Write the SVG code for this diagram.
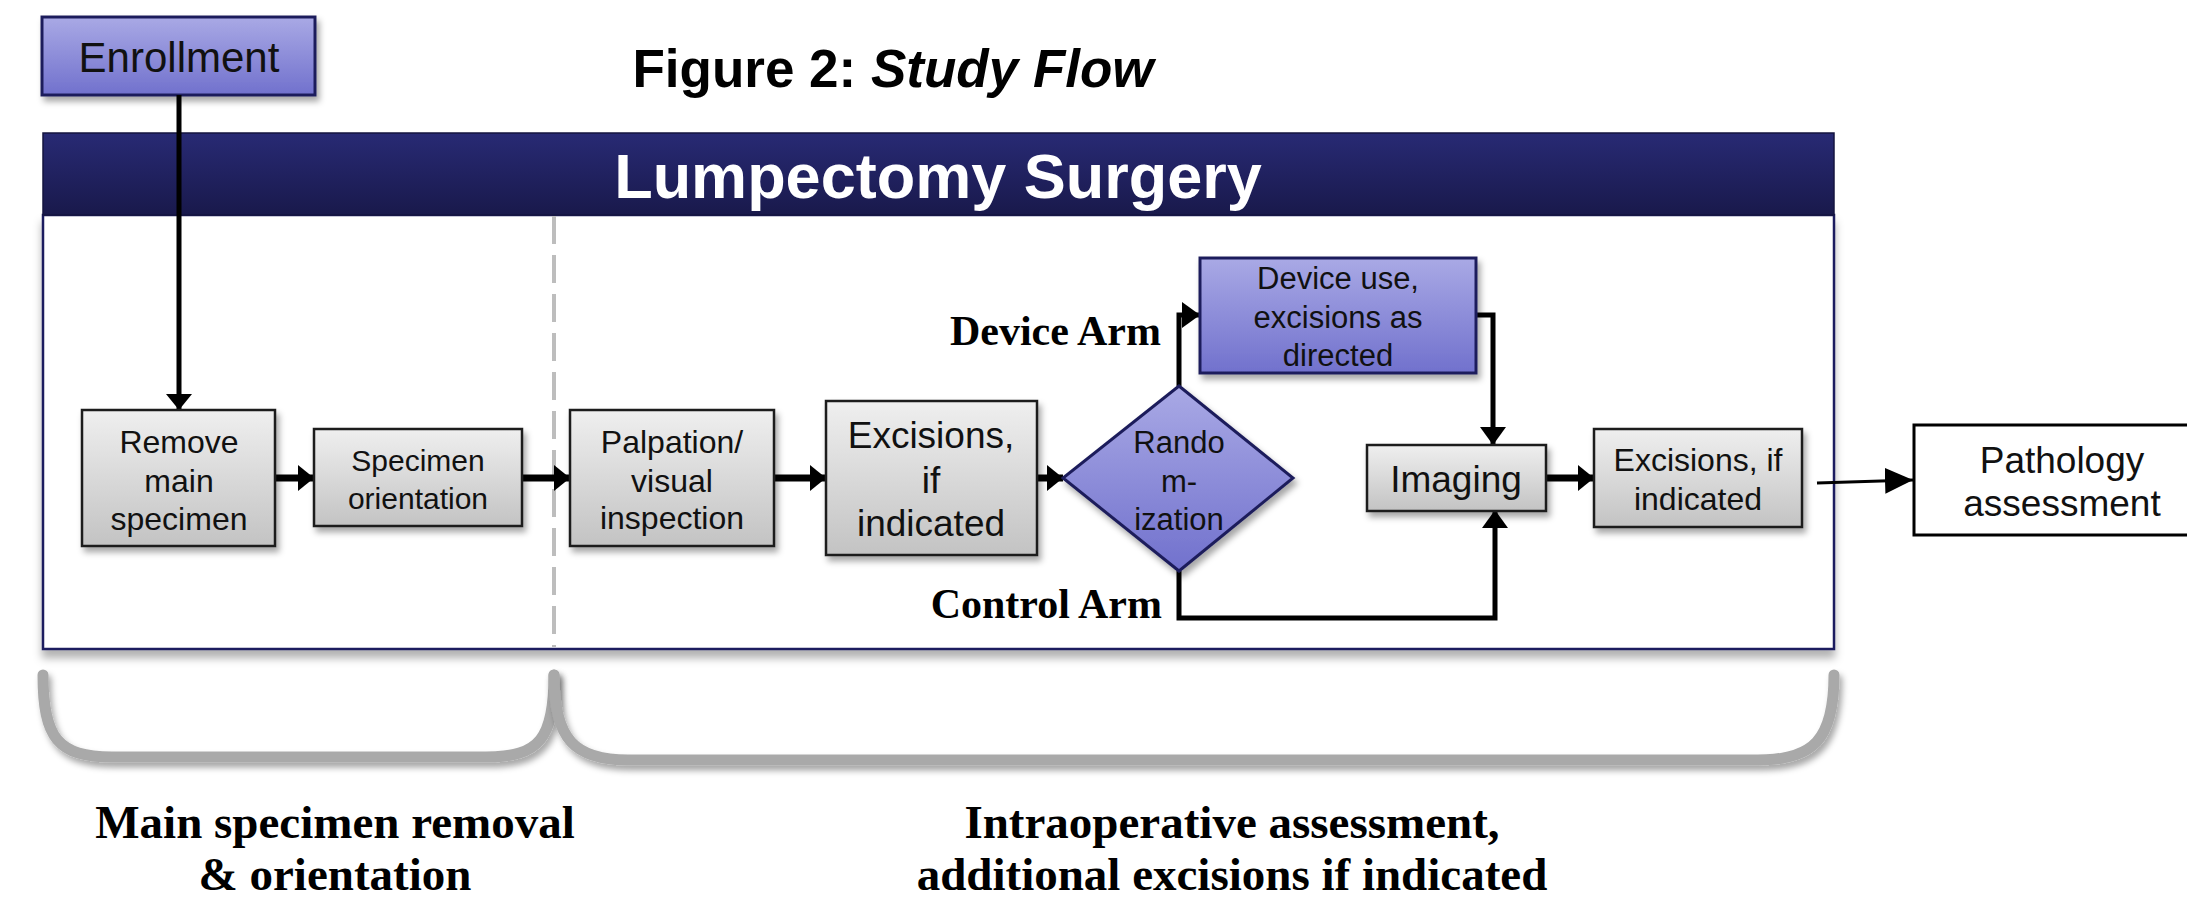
<svg xmlns="http://www.w3.org/2000/svg" width="2187" height="901" viewBox="0 0 2187 901">
<defs>
<linearGradient id="gGray" x1="0" y1="0" x2="0" y2="1"><stop offset="0" stop-color="#efefef"/><stop offset="1" stop-color="#c3c3c3"/></linearGradient>
<linearGradient id="gPurple" x1="0" y1="0" x2="0" y2="1"><stop offset="0" stop-color="#a9a9e5"/><stop offset="1" stop-color="#7171cd"/></linearGradient>
<linearGradient id="gHead" x1="0" y1="0" x2="0" y2="1"><stop offset="0" stop-color="#282a74"/><stop offset="1" stop-color="#19194b"/></linearGradient>
<filter id="sh" x="-10%" y="-10%" width="130%" height="140%"><feDropShadow dx="3" dy="5" stdDeviation="3" flood-color="#000" flood-opacity="0.35"/></filter>
<filter id="shb" x="-5%" y="-10%" width="110%" height="130%"><feDropShadow dx="0" dy="8" stdDeviation="4" flood-color="#000" flood-opacity="0.3"/></filter>
<marker id="ah" markerUnits="userSpaceOnUse" markerWidth="17" markerHeight="26" refX="16" refY="13" orient="auto"><path d="M0,0 L16,13 L0,26 z" fill="#000"/></marker>
<marker id="ahm" markerUnits="userSpaceOnUse" markerWidth="19" markerHeight="28" refX="18" refY="14" orient="auto"><path d="M0,1 L18,14 L0,27 z" fill="#000"/></marker>
<marker id="aht" markerUnits="userSpaceOnUse" markerWidth="29" markerHeight="26" refX="28" refY="13" orient="auto"><path d="M0,0 L28,13 L0,26 z" fill="#000"/></marker>
</defs>
<style>
.gbox{fill:url(#gGray);stroke:#1a1a1a;stroke-width:2.5;filter:url(#sh)}
.pbox{fill:url(#gPurple);stroke:#1f1f5c;stroke-width:3;filter:url(#sh)}
.t{font-family:"Liberation Sans",Arial,sans-serif;fill:#111;text-anchor:middle}
.s{font-family:"Liberation Serif","Times New Roman",serif;font-weight:bold;fill:#000}
.c{fill:none;stroke:#000;stroke-linejoin:miter}
.thick{stroke-width:7}
.med{stroke-width:5}
.brace{fill:none;stroke:#a9a9a9;stroke-width:11;stroke-linecap:round}
</style>
<rect width="2187" height="901" fill="#fff"/>

<g id="title"><text x="893" y="87" font-family="Liberation Sans,Arial,sans-serif" font-weight="bold" font-size="53" text-anchor="middle" fill="#000">Figure 2: <tspan font-style="italic">Study Flow</tspan></text></g>

<g id="surgery-panel">
<rect x="43" y="215" width="1791" height="434" fill="#fff" stroke="#1f1f5f" stroke-width="2.5" filter="url(#shb)"/>
<rect x="43" y="133" width="1791" height="82" fill="url(#gHead)" stroke="#15153f" stroke-width="1.5"/>
<text x="938" y="198" font-family="Liberation Sans,Arial,sans-serif" font-weight="bold" font-size="63" text-anchor="middle" fill="#fff">Lumpectomy Surgery</text>
<line x1="554" y1="216" x2="554" y2="647" stroke="#bdbdbd" stroke-width="4" stroke-dasharray="28,11"/>
</g>

<g id="enrollment"><rect class="pbox" x="42" y="17" width="273" height="78"/><text class="t" x="179" y="72" font-size="42">Enrollment</text></g>

<g id="connectors">
<path class="c med" d="M179,95 V410" marker-end="url(#ah)"/>
<path class="c thick" d="M275,478 H314" marker-end="url(#ah)"/>
<path class="c thick" d="M522,478 H570" marker-end="url(#ah)"/>
<path class="c thick" d="M774,478 H826" marker-end="url(#ah)"/>
<path class="c thick" d="M1037,478 H1063" marker-end="url(#ah)"/>
<path class="c med" d="M1179,386 V315 H1200" marker-end="url(#ahm)"/>
<path class="c med" d="M1476,315 H1493 V445" marker-end="url(#ahm)"/>
<path class="c med" d="M1179,571 V618 H1495 V510" marker-end="url(#ahm)"/>
<path class="c thick" d="M1546,478 H1594" marker-end="url(#ah)"/>
<path class="c" stroke-width="3" d="M1817,483 L1913,480" marker-end="url(#aht)"/>
</g>

<g id="remove"><rect class="gbox" x="82" y="410" width="193" height="136"/><text class="t" font-size="32"><tspan x="179" y="453">Remove</tspan><tspan x="179" y="492">main</tspan><tspan x="179" y="530">specimen</tspan></text></g>

<g id="orientation"><rect class="gbox" x="314" y="429" width="208" height="97"/><text class="t" font-size="30"><tspan x="418" y="471">Specimen</tspan><tspan x="418" y="509">orientation</tspan></text></g>

<g id="palpation"><rect class="gbox" x="570" y="410" width="204" height="136"/><text class="t" font-size="32"><tspan x="672" y="453">Palpation/</tspan><tspan x="672" y="492">visual</tspan><tspan x="672" y="529">inspection</tspan></text></g>

<g id="excisions1"><rect class="gbox" x="826" y="401" width="211" height="154"/><text class="t" font-size="37"><tspan x="931" y="448">Excisions,</tspan><tspan x="931" y="493">if</tspan><tspan x="931" y="536">indicated</tspan></text></g>

<g id="randomization"><path class="pbox" d="M1179,386 L1293,478 L1179,571 L1063,478 Z"/><text class="t" font-size="31"><tspan x="1179" y="453">Rando</tspan><tspan x="1179" y="492">m-</tspan><tspan x="1179" y="530">ization</tspan></text></g>

<g id="device"><rect class="pbox" x="1200" y="258" width="276" height="115"/><text class="t" font-size="31"><tspan x="1338" y="289">Device use,</tspan><tspan x="1338" y="328">excisions as</tspan><tspan x="1338" y="366">directed</tspan></text></g>

<g id="imaging"><rect class="gbox" x="1367" y="445" width="179" height="66"/><text class="t" x="1456" y="492" font-size="37">Imaging</text></g>

<g id="excisions2"><rect class="gbox" x="1594" y="429" width="208" height="98"/><text class="t" font-size="32"><tspan x="1698" y="471">Excisions, if</tspan><tspan x="1698" y="510">indicated</tspan></text></g>

<g id="pathology"><rect x="1914" y="425" width="290" height="110" fill="#fff" stroke="#000" stroke-width="3"/><text class="t" font-size="37"><tspan x="2062" y="473">Pathology</tspan><tspan x="2062" y="516">assessment</tspan></text></g>

<g id="arm-labels">
<text class="s" x="1161" y="345" font-size="42" text-anchor="end">Device Arm</text>
<text class="s" x="1162" y="618" font-size="42" text-anchor="end">Control Arm</text>
</g>

<g id="braces">
<path class="brace" d="M43,675 C43,738 58,757 112,757 L486,757 C540,757 554,738 554,675" filter="url(#sh)"/>
<path class="brace" d="M554,675 C554,740 575,760 628,760 L1758,760 C1813,760 1834,740 1834,675" filter="url(#sh)"/>
</g>

<g id="phase-labels">
<text class="s" font-size="47" text-anchor="middle"><tspan x="335" y="838">Main specimen removal</tspan><tspan x="335" y="890">&amp; orientation</tspan></text>
<text class="s" font-size="47" text-anchor="middle"><tspan x="1232" y="838">Intraoperative assessment,</tspan><tspan x="1232" y="890">additional excisions if indicated</tspan></text>
</g>
</svg>
